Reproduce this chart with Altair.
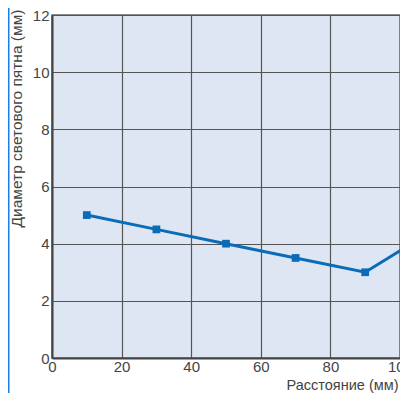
import altair as alt
import pandas as pd

distance_mm = [10, 30, 50, 70, 90, 110]
spot_diameter_mm = [5.0, 4.5, 4.0, 3.5, 3.0, 4.5]
x_ticks = [0, 10, 20, 30, 40, 50, 60, 70, 80, 90, 100]
y_ticks = [0, 2, 4, 6, 8, 10, 12]

df = pd.DataFrame({"x": distance_mm, "y": spot_diameter_mm})

FONT = "Liberation Sans"
LINE = "#0a6cb8"
W, H = 348, 343

base = alt.Chart(df)

line = base.mark_line(color=LINE, strokeWidth=3, clip=True).encode(
    x=alt.X("x:Q", scale=alt.Scale(domain=[0, 100], nice=False, zero=False),
            axis=alt.Axis(values=x_ticks,
                          labelExpr="datum.value % 20 == 0 ? datum.label : ''",
                          title="Расстояние (мм)",
                          titleAlign="right", titleBaseline="alphabetic",
                          titleX=W - 2, titleY=31,
                          titleFontWeight="normal", titleFontSize=14.5,
                          titleColor="#444", labelColor="#444",
                          labelFontSize=15, labelPadding=1, ticks=False,
                          domainColor="#444", domainWidth=2,
                          gridColor="#555", gridWidth=1.2, gridOpacity=1,
                          labelFont=FONT, titleFont=FONT, labelFlush=False)),
    y=alt.Y("y:Q", scale=alt.Scale(domain=[0, 12], nice=False),
            axis=alt.Axis(values=y_ticks, title="Диаметр светового пятна (мм)",
                          titleAngle=270, titleAlign="right",
                          titleBaseline="alphabetic",
                          titleX=-31, titleY=-6,
                          titleFontWeight="normal", titleFontSize=15.5,
                          titleColor="#444", labelColor="#444",
                          labelFontSize=15, labelPadding=3, ticks=False,
                          domainColor="#444", domainWidth=2,
                          gridColor="#555", gridWidth=1.2, gridOpacity=1,
                          labelFont=FONT, titleFont=FONT)),
)

points = base.mark_square(color=LINE, size=60, opacity=1, clip=True).encode(
    x="x:Q", y="y:Q"
).transform_filter("datum.x <= 100")

edge = alt.Chart(pd.DataFrame({"a": [0]})).mark_rule(
    color="#1a7fe0", strokeWidth=2, clip=False
).encode(x=alt.value(-43.5), y=alt.value(-7), y2=alt.value(378))

chart = alt.layer(line, points, edge).properties(
    width=W, height=H,
    padding={"left": 44, "top": 7, "right": 0, "bottom": 35},
    autosize=alt.AutoSizeParams(type="none"),
).configure_view(
    fill="#dfe6f3", stroke="#666", strokeWidth=1.5
)

chart.save("out.html", embed_options={"renderer": "svg", "actions": False})
